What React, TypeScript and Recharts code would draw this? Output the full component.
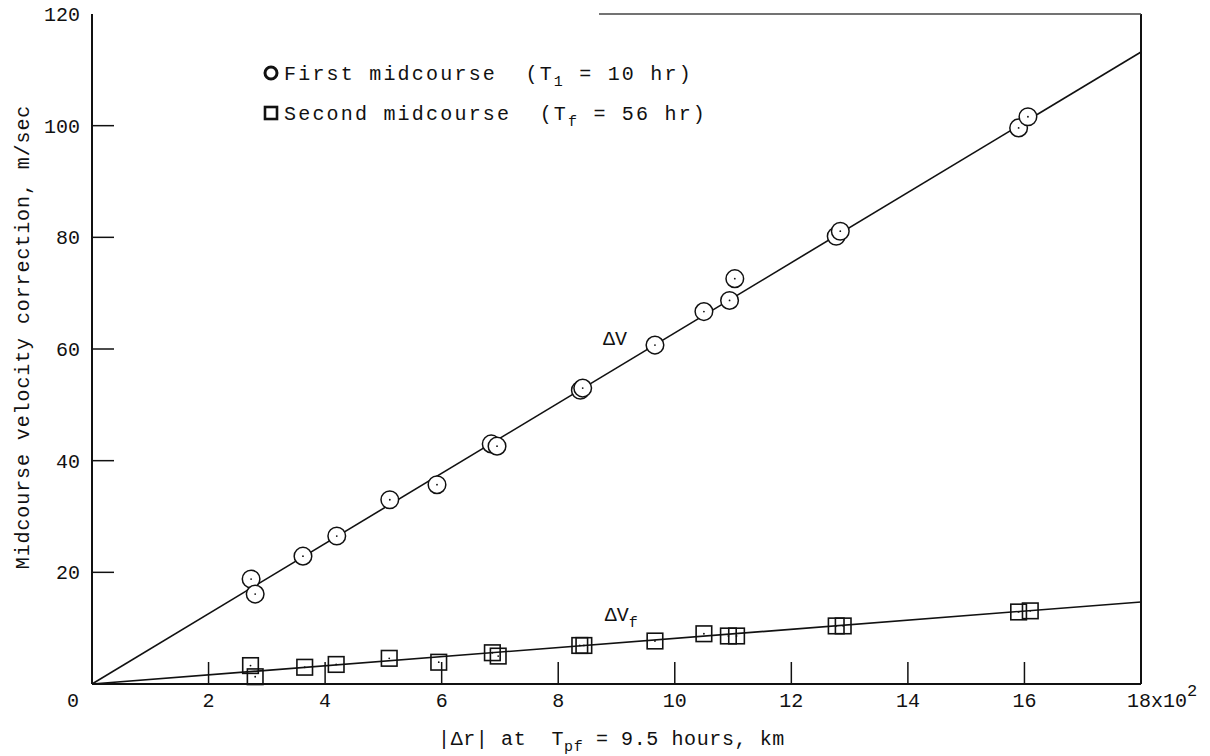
import React from "react";
import {
  ComposedChart,
  Scatter,
  XAxis,
  YAxis,
  ReferenceLine,
  ReferenceDot,
  Legend,
} from "recharts";

const FONT = "'Liberation Mono', 'Courier New', monospace";
const INK = "#111";

// |Δr| in units of 100 km
const xTicks = [0, 2, 4, 6, 8, 10, 12, 14, 16, 18];
const yTicks = [0, 20, 40, 60, 80, 100, 120];

// first midcourse (T1 = 10 hr)
const firstRange = [
  2.73, 2.8, 3.62, 4.2, 5.11, 5.92, 6.85, 6.95, 8.38, 8.42, 9.66, 10.5, 10.94,
  11.03, 12.77, 12.84, 15.9, 16.06,
];
const firstDv = [
  18.8, 16.1, 22.9, 26.5, 33.0, 35.7, 43.0, 42.6, 52.6, 53.0, 60.7, 66.7, 68.7,
  72.6, 80.2, 81.1, 99.6, 101.6,
];

// second midcourse (Tf = 56 hr)
const secondRange = [
  2.72, 2.8, 3.65, 4.19, 5.1, 5.95, 6.87, 6.97, 8.37, 8.44, 9.66, 10.5, 10.92,
  11.06, 12.77, 12.89, 15.9, 16.1,
];
const secondDv = [
  3.3, 1.3, 3.0, 3.5, 4.6, 3.9, 5.6, 5.0, 6.9, 6.9, 7.7, 9.0, 8.6, 8.6, 10.4,
  10.4, 12.9, 13.1,
];

// straight-line fits through the origin, value at the right edge
const fitEndRange = 18;
const firstFitEnd = 113.2;
const secondFitEnd = 14.7;

const firstData = firstRange.map((r, i) => ({ r, v: firstDv[i] }));
const secondData = secondRange.map((r, i) => ({ r, v: secondDv[i] }));

const textStyle = { fontFamily: FONT, fontSize: 20, fill: INK };

const XTick = (props: any) => {
  const { x, y, payload } = props;
  const v = payload.value;
  if (v === 0) {
    return (
      <text x={x - 19} y={y + 16} dy="0.35em" textAnchor="middle" {...textStyle}>
        0
      </text>
    );
  }
  if (v === 18) {
    return (
      <text x={x - 14} y={y + 16} dy="0.35em" textAnchor="start" {...textStyle}>
        18x10
        <tspan dy={-11} fontSize={17}>
          2
        </tspan>
      </text>
    );
  }
  return (
    <g>
      <line x1={x} x2={x} y1={y} y2={y - 22} stroke={INK} strokeWidth={1.5} />
      <text x={x} y={y + 16} dy="0.35em" textAnchor="middle" {...textStyle}>
        {v}
      </text>
    </g>
  );
};

const YTick = (props: any) => {
  const { x, y, payload } = props;
  const v = payload.value;
  if (v === 0) return null;
  return (
    <g>
      {v !== 120 && (
        <line x1={x} x2={x + 22} y1={y} y2={y} stroke={INK} strokeWidth={1.5} />
      )}
      <text x={x - 12} y={y} dy="0.35em" textAnchor="end" {...textStyle}>
        {v}
      </text>
    </g>
  );
};

const OpenCircle = (p: any) => (
  <g>
    <circle cx={p.cx} cy={p.cy} r={8.8} fill="#fff" stroke={INK} strokeWidth={1.5} />
    <circle cx={p.cx} cy={p.cy} r={0.9} fill={INK} />
  </g>
);

const OpenSquare = (p: any) => (
  <g>
    <rect
      x={p.cx - 7.8}
      y={p.cy - 7.8}
      width={15.6}
      height={15.6}
      fill="none"
      stroke={INK}
      strokeWidth={1.6}
    />
    <circle cx={p.cx} cy={p.cy} r={0.9} fill={INK} />
  </g>
);

const LegendBox = () => (
  <svg width={500} height={80}>
    <circle cx={16} cy={18} r={6} fill="none" stroke={INK} strokeWidth={3} />
    <text x={29} y={25} style={{ whiteSpace: "pre" }} letterSpacing={2.2} {...textStyle}>
      First midcourse  (T
      <tspan dy={6} fontSize={15}>
        1
      </tspan>
      <tspan dy={-6}> = 10 hr)</tspan>
    </text>
    <rect x={10} y={52} width={12} height={12} fill="none" stroke={INK} strokeWidth={2.6} />
    <text x={29} y={65} style={{ whiteSpace: "pre" }} letterSpacing={2.2} {...textStyle}>
      Second midcourse  (T
      <tspan dy={6} fontSize={15}>
        f
      </tspan>
      <tspan dy={-6}> = 56 hr)</tspan>
    </text>
  </svg>
);

const YTitle = ({ viewBox }: any) => {
  const cx = viewBox.x - 10;
  const cy = viewBox.y + viewBox.height / 2 - 12;
  return (
    <text
      x={cx}
      y={cy}
      transform={`rotate(-90 ${cx} ${cy})`}
      textAnchor="middle"
      dy="0.35em"
      letterSpacing={0.9}
      {...textStyle}
    >
      Midcourse velocity correction, m/sec
    </text>
  );
};

const XTitle = ({ viewBox }: any) => {
  const cx = viewBox.x + viewBox.width / 2 - 5;
  const cy = viewBox.y + 61;
  return (
    <text
      x={cx}
      y={cy}
      textAnchor="middle"
      style={{ whiteSpace: "pre" }}
      letterSpacing={0.6}
      {...textStyle}
    >
      |Δr| at  T
      <tspan dy={6} fontSize={15}>
        pf
      </tspan>
      <tspan dy={-6}> = 9.5 hours, km</tspan>
    </text>
  );
};

const CurveTag = (sub?: string) => ({ viewBox }: any) => (
  <text x={viewBox.x} y={viewBox.y} {...textStyle}>
    ΔV
    {sub && (
      <tspan dy={6} fontSize={15}>
        {sub}
      </tspan>
    )}
  </text>
);

export default function App() {
  return (
    <div
      style={{
        position: "absolute",
        left: 0,
        top: 0,
        width: 1210,
        height: 756,
        background: "#fff",
      }}
    >
      <ComposedChart
        width={1210}
        height={756}
        margin={{ top: 14, right: 69, bottom: 42, left: 32 }}
      >
        <XAxis
          type="number"
          dataKey="r"
          domain={[0, 18]}
          ticks={xTicks}
          interval={0}
          height={30}
          tickSize={0}
          tickMargin={0}
          tickLine={false}
          tick={XTick}
          axisLine={{ stroke: INK, strokeWidth: 2 }}
          label={{ content: XTitle }}
        />
        <YAxis
          type="number"
          dataKey="v"
          domain={[0, 120]}
          ticks={yTicks}
          interval={0}
          width={60}
          tickSize={0}
          tickMargin={0}
          tickLine={false}
          tick={YTick}
          axisLine={{ stroke: INK, strokeWidth: 2 }}
          label={{ content: YTitle }}
        />
        <Legend
          layout="vertical"
          align="center"
          verticalAlign="middle"
          content={LegendBox}
          wrapperStyle={{ left: 255, top: 55, width: 500, height: 80 }}
        />
        <ReferenceLine x={fitEndRange} stroke={INK} strokeWidth={2} ifOverflow="visible" />
        <ReferenceLine
          segment={[
            { x: 8.7, y: 120 },
            { x: fitEndRange, y: 120 },
          ]}
          stroke="#444"
          strokeWidth={1.3}
          ifOverflow="visible"
        />
        <ReferenceLine
          segment={[
            { x: 0, y: 0 },
            { x: fitEndRange, y: firstFitEnd },
          ]}
          stroke={INK}
          strokeWidth={1.6}
          ifOverflow="visible"
        />
        <ReferenceLine
          segment={[
            { x: 0, y: 0 },
            { x: fitEndRange, y: secondFitEnd },
          ]}
          stroke={INK}
          strokeWidth={1.6}
          ifOverflow="visible"
        />
        <Scatter
          name="First midcourse"
          data={firstData}
          dataKey="v"
          shape={OpenCircle}
          isAnimationActive={false}
        />
        <Scatter
          name="Second midcourse"
          data={secondData}
          dataKey="v"
          shape={OpenSquare}
          isAnimationActive={false}
        />
        <ReferenceDot
          x={8.77}
          y={60.7}
          r={0}
          fill="none"
          stroke="none"
          label={{ content: CurveTag() }}
        />
        <ReferenceDot
          x={8.8}
          y={11.2}
          r={0}
          fill="none"
          stroke="none"
          label={{ content: CurveTag("f") }}
        />
      </ComposedChart>
    </div>
  );
}
